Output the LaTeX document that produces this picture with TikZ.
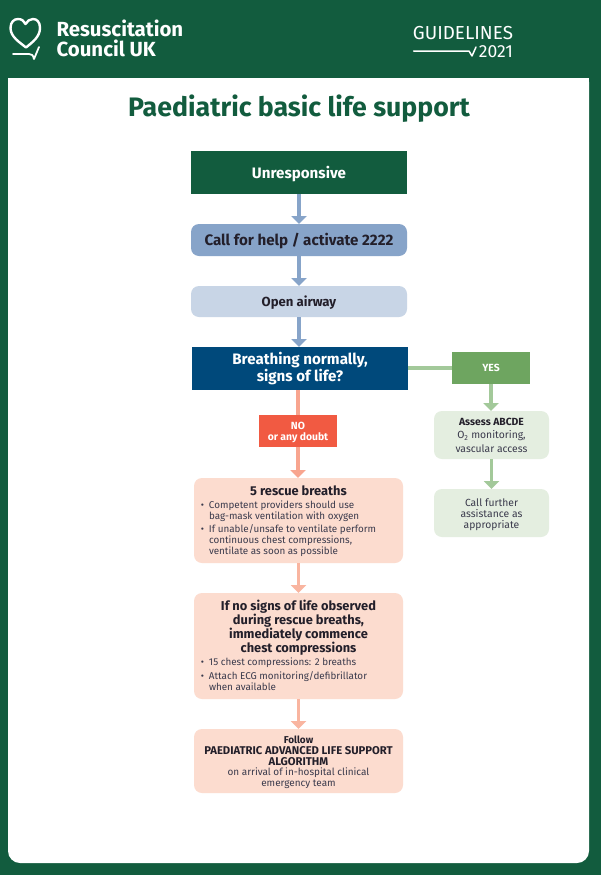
\documentclass[tikz,border=0pt]{standalone}
\usepackage{fontspec}
\setmainfont{Fira Sans}
\usetikzlibrary{arrows.meta}
\definecolor{rcgreen}{HTML}{125C3E}
\definecolor{rcblue}{HTML}{00497B}
\definecolor{midblue}{HTML}{87A4C9}
\definecolor{paleblue}{HTML}{C8D5E6}
\definecolor{rcred}{HTML}{F15A42}
\definecolor{lightred}{HTML}{F8A58F}
\definecolor{paleredline}{HTML}{F9B5A0}
\definecolor{peach}{HTML}{FCDCCF}
\definecolor{yesgreen}{HTML}{6EA560}
\definecolor{linegreen}{HTML}{A3C99A}
\definecolor{palegreen}{HTML}{E4EEE0}
\definecolor{inktext}{HTML}{231F2A}
\definecolor{softtext}{HTML}{3A3A4C}
\newcommand{\bul}{\llap{\textbullet\hspace{5bp}}}
\tikzset{
box/.style={inner sep=0pt,outer sep=0pt,align=center},
squarebox/.style={box,fill=#1,text=white,font=\bfseries\fontsize{15.2}{17.3}\selectfont},
roundbox/.style={box,fill=#1,rounded corners=8bp,text=inktext},
tag/.style={box,fill=#1,text=white,font=\bfseries\fontsize{10.4}{11}\selectfont,minimum width=78bp,minimum height=32bp},
mainsize/.style={minimum width=216bp},
lowtext/.style={text height=14bp,text depth=3bp},
peachbox/.style={roundbox=peach,minimum width=209bp},
sidebox/.style={roundbox=palegreen,minimum width=115bp,minimum height=48bp,text=softtext,font=\fontsize{10.4}{11}\selectfont},
bodytext/.style={box,anchor=north west,align=left,text=softtext,font=\fontsize{9.9}{11}\selectfont},
headtext/.style={box,text=inktext,font=\bfseries\fontsize{12.9}{14}\selectfont},
link/.style={line width=3.5bp,draw=#1,-{Triangle[width=15bp,length=8bp]}},
plainlink/.style={line width=3.5bp,draw=#1},
logoline/.style={draw=white,line width=1.8bp,line cap=round,line join=round},
}
\begin{document}
\begin{tikzpicture}[x=1bp,y=-1bp]
\useasboundingbox (0,0) rectangle (601,875);
\fill[rcgreen] (0,0) rectangle (601,875);
\fill[white,rounded corners=12bp] (8,70) rectangle (589,863);
\fill[white] (8,78) rectangle (589,100);
\fill[rcgreen] (8,60) rectangle (589,78);
% header
\draw[logoline,line width=2.4bp] (26,47.5) .. controls (20,42.5) and (10.5,37) .. (10.5,28) .. controls (10.5,22) and (14,19) .. (18,19) .. controls (21.5,19) and (24.5,21) .. (25.5,24) .. controls (27,21) and (30,19) .. (33,19) .. controls (37,19) and (40,22) .. (40,28) .. controls (40,37) and (32,42.5) .. (26,47.5) -- cycle;
\draw[logoline] (13,54) -- (29,54) .. controls (32,54) and (33,55) .. (34,59) -- (39,47);
\node[box,anchor=base west,text=white,font=\bfseries\fontsize{20.5}{22}\selectfont] (logotop) at (56.5,36) {Resuscitation};
\node[box,anchor=base west,text=white,font=\bfseries\fontsize{20.5}{22}\selectfont] (logobottom) at (56.5,56.5) {Council UK};
\node[box,anchor=base east,text=white,font=\fontsize{18.9}{20}\selectfont] (guide) at (513,39) {GUIDELINES};
\node[box,anchor=base east,text=white,font=\fontsize{17.6}{20}\selectfont] (year) at (513,57) {2021};
\draw[logoline,line width=1.5bp] (413.5,51) -- (469,51) -- (472,56) -- (476,47);
\node[box,text=rcgreen,font=\bfseries\fontsize{26.8}{30}\selectfont] (title) at (299,109) {Paediatric basic life support};
% main column
\node[squarebox=rcgreen,mainsize,minimum height=43bp,lowtext] (unresp) at (299,172.5) {Unresponsive};
\node[roundbox=midblue,mainsize,minimum height=32bp,lowtext,font=\bfseries\fontsize{15.2}{17}\selectfont] (callhelp) at (299,240) {Call for help / activate 2222};
\node[roundbox=paleblue,mainsize,minimum height=31bp,text height=12bp,text depth=3bp,font=\bfseries\fontsize{13.2}{15}\selectfont] (airway) at (299,301.5) {Open airway};
\node[squarebox=rcblue,mainsize,minimum height=43bp] (breath) at (300,368.5) {Breathing normally,\\signs of life?};
\node[tag=rcred] (no) at (298,431) {\rule{0pt}{10bp}NO\\or any doubt};
\node[peachbox,minimum height=85bp] (rescue) at (298.5,520.5) {};
\node[peachbox,minimum height=106bp] (nosigns) at (298.5,646) {};
\node[peachbox,minimum height=64bp] (follow) at (298.5,761) {};
% side column
\node[tag=yesgreen] (yes) at (491,368) {YES};
\node[sidebox,font=\fontsize{10.4}{13.5}\selectfont] (abcde) at (491.5,435) {\textcolor{inktext}{\textbf{Assess ABCDE}}\\O\textsubscript{2} monitoring,\\vascular access};
\node[sidebox] (further) at (491.5,513) {\rule{0pt}{12bp}Call further\\assistance as\\appropriate};
% box texts
\node[headtext] (rescuehead) at (298.5,491) {5 rescue breaths};
\node[bodytext] (rescueone) at (209,501) {\bul Competent providers should use\\bag-mask ventilation with oxygen};
\node[bodytext] (rescuetwo) at (209,525) {\bul If unable/unsafe to ventilate perform\\continuous chest compressions,\\ventilate as soon as possible};
\node[headtext] (nosignshead) at (298.5,628) {If no signs of life observed\\during rescue breaths,\\immediately commence\\chest compressions};
\node[bodytext] (nosignsone) at (209,658) {\bul 15 chest compressions: 2 breaths};
\node[bodytext] (nosignstwo) at (209,672) {\bul Attach ECG monitoring/defibrillator\\when available};
\node[box,text=softtext,font=\fontsize{10}{10.7}\selectfont] (followtext) at (298.5,762.5) {\textcolor{inktext}{\textbf{Follow}}\\\textcolor{inktext}{\fontsize{11.3}{10.7}\selectfont\textbf{PAEDIATRIC ADVANCED LIFE SUPPORT}}\\\textcolor{inktext}{\fontsize{11.3}{10.7}\selectfont\textbf{ALGORITHM}}\\on arrival of in-hospital clinical\\emergency team};
% connectors
\draw[link=midblue] (unresp) -- (callhelp);
\draw[link=midblue] (callhelp) -- (airway);
\draw[link=midblue] (airway) -- (breath.north -| airway);
\draw[plainlink=lightred] (breath.south -| no) -- (no);
\draw[link=lightred] (no) -- (rescue.north -| no);
\draw[link=paleredline] (rescue) -- (nosigns);
\draw[link=paleredline] (nosigns) -- (follow);
\draw[plainlink=linegreen] (breath.east |- yes) -- (yes);
\draw[link=linegreen] (yes) -- (abcde.north -| yes);
\draw[link=linegreen] (abcde) -- (further);
\end{tikzpicture}
\end{document}
